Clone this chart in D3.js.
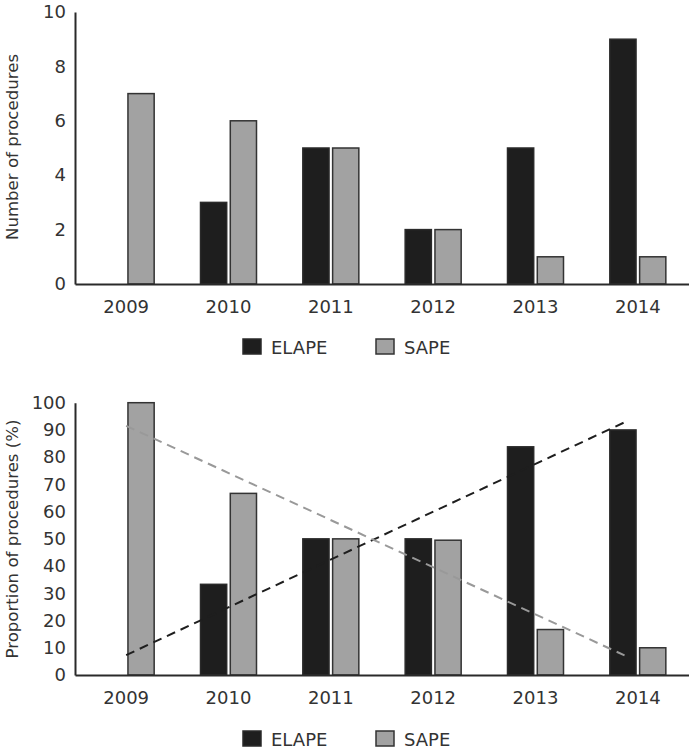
<!DOCTYPE html>
<html><head><meta charset="utf-8">
<script src="https://cdn.jsdelivr.net/npm/d3@7"></script>
<style>body{margin:0;background:#fff}svg{display:block}text{font-family:"DejaVu Sans",sans-serif;fill:#333}</style>
</head><body><svg id="c" width="689" height="751"></svg>
<script>
const years = ["2009","2010","2011","2012","2013","2014"];
const series = ["ELAPE","SAPE"];
const countELAPE = [0,3,5,2,5,9];
const countSAPE = [7,6,5,2,1,1];
const pctELAPE = [0,33.3,50,50,83.8,90];
const pctSAPE = [100,66.7,50,49.5,16.7,10];
const countTicks = [0,2,4,6,8,10];
const pctTicks = [0,10,20,30,40,50,60,70,80,90,100];
// trend lines: [start index, end index] and values at those ends
const trendX = [0, 4.87];
const trendELAPE = [7.3, 92.8];
const trendSAPE = [91.5, 7.2];

const colors = {ELAPE:"#1e1e1e", SAPE:"#a2a2a2"};
const strokes = {ELAPE:"#2a2a2a", SAPE:"#333"};
const svg = d3.select("#c");
const x = d3.scaleBand().domain(years).range([75,689]).padding(0);
const x1 = d3.scaleBand().domain(series).range([-28,28]).paddingInner(0.12);
const xi = d3.scaleLinear().domain([0,5]).range([x("2009")+x.bandwidth()/2, x("2014")+x.bandwidth()/2]);

function panel(cfg){
  const y = d3.scaleLinear().domain(cfg.domain).range([cfg.y0, cfg.y1]);
  const g = svg.append("g");
  const data = {ELAPE:cfg.e, SAPE:cfg.s};
  series.forEach(s=>{
    g.selectAll(null).data(years.map((yr,i)=>({yr,v:data[s][i]})).filter(d=>d.v>0))
      .enter().append("rect")
      .attr("x", d=>x(d.yr)+x.bandwidth()/2+x1(s))
      .attr("width", x1.bandwidth())
      .attr("y", d=>y(d.v)).attr("height", d=>y(0)-y(d.v))
      .attr("fill", colors[s]).attr("stroke", strokes[s]).attr("stroke-width",1.5);
  });
  if(cfg.trends){
    cfg.trends.forEach(t=>{
      g.append("line").attr("x1",xi(trendX[0])).attr("x2",xi(trendX[1]))
        .attr("y1",y(t.v[0])).attr("y2",y(t.v[1]))
        .attr("stroke",t.c).attr("stroke-width",2).attr("stroke-dasharray","9,6");
    });
  }
  // axes
  const ax = g.append("g").attr("transform",`translate(0,${cfg.y0})`)
    .call(d3.axisBottom(x).tickSize(0).tickPadding(16));
  ax.select(".domain").attr("stroke","#2a2a2a").attr("stroke-width",2);
  ax.selectAll("text").attr("font-size",18).style("font-family","DejaVu Sans").attr("fill","#333");
  const ay = g.append("g").attr("transform","translate(75,0)")
    .call(d3.axisLeft(y).tickValues(cfg.ticks).tickSize(0).tickPadding(9));
  ay.select(".domain").attr("stroke","#2a2a2a").attr("stroke-width",2);
  ay.selectAll("text").attr("font-size",18).style("font-family","DejaVu Sans").attr("fill","#333");
  g.append("text").attr("transform",`translate(18,${cfg.ty}) rotate(-90)`)
    .attr("text-anchor","middle").attr("font-size",16.6).text(cfg.title);
  // legend
  const lg = g.append("g");
  const lx = [243, 376];
  series.forEach((s,i)=>{
    lg.append("rect").attr("x",lx[i]).attr("y",cfg.ly-15).attr("width",18).attr("height",15)
      .attr("fill",colors[s]).attr("stroke",strokes[s]).attr("stroke-width",1.5);
    lg.append("text").attr("x",lx[i]+28).attr("y",cfg.ly).attr("font-size",18).text(s);
  });
}
panel({domain:[0,10], y0:284, y1:12, e:countELAPE, s:countSAPE, ticks:countTicks,
  title:"Number of procedures", ty:147, ly:354});
panel({domain:[0,100], y0:675, y1:402.7, e:pctELAPE, s:pctSAPE, ticks:pctTicks,
  title:"Proportion of procedures (%)", ty:539, ly:746,
  trends:[{v:trendELAPE,c:"#1e1e1e"},{v:trendSAPE,c:"#999"}]});
</script></body></html>
